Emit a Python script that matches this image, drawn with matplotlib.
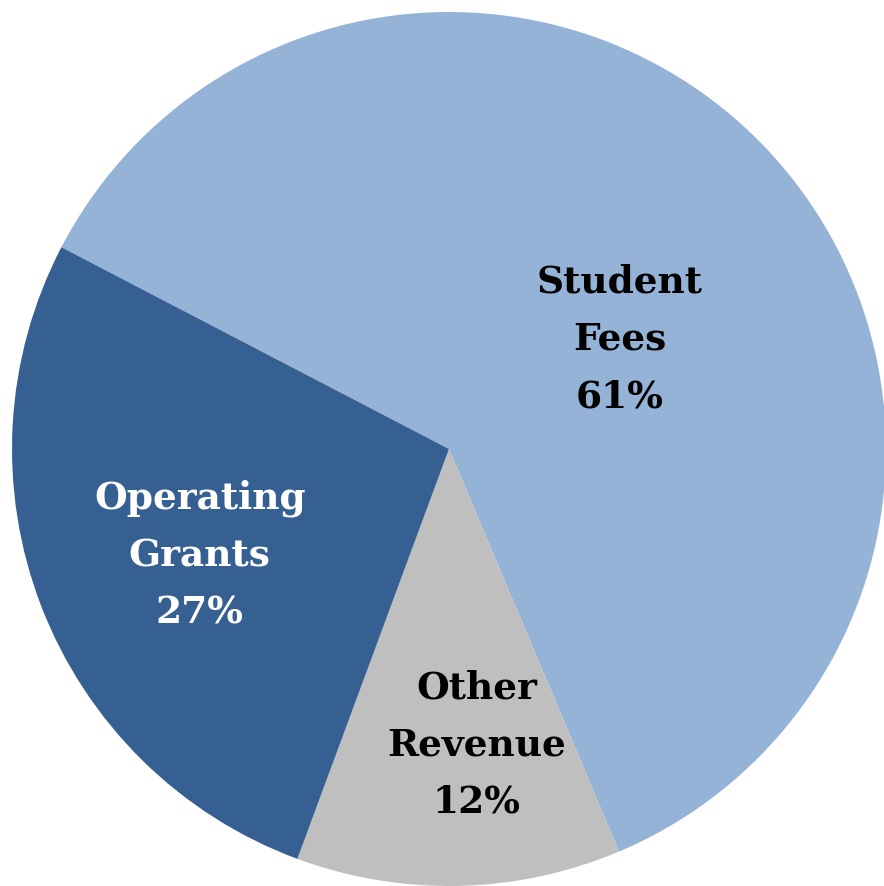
import matplotlib.pyplot as plt
import numpy as np

# revenue shares (percent)
labels = ['Student\nFees', 'Other\nRevenue', 'Operating\nGrants']
shares = [61, 12, 27]
colors = ['#95b3d7', '#bfbfbf', '#376092']
text_colors = ['black', 'black', 'white']

fig = plt.figure(figsize=(8.84, 8.86), dpi=100)
# square axes holding the pie, in pixels
cx, cy, r = 449, 449, 437
ax = fig.add_axes([(cx - r) / 884, (886 - cy - r) / 886, 2 * r / 884, 2 * r / 886])

wedges, _ = ax.pie(shares, colors=colors, startangle=152.5, counterclock=False,
                   radius=1, wedgeprops=dict(linewidth=0))
ax.set_xlim(-1, 1)
ax.set_ylim(-1, 1)
ax.axis('off')

# label placement: distance from centre and angle nudge per slice
dist = [0.465, 0.68, 0.62]
nudge = [-10.0, 4, 2]
for w, lab, s, c, d, n in zip(wedges, labels, shares, text_colors, dist, nudge):
    ang = np.deg2rad((w.theta1 + w.theta2) / 2 + n)
    ax.text(d * np.cos(ang), d * np.sin(ang), lab + '\n' + str(s) + '%',
            ha='center', va='center', color=c, fontsize=27, fontweight='bold',
            family='DejaVu Serif', linespacing=1.7)

fig.savefig('out.png', dpi=100)
